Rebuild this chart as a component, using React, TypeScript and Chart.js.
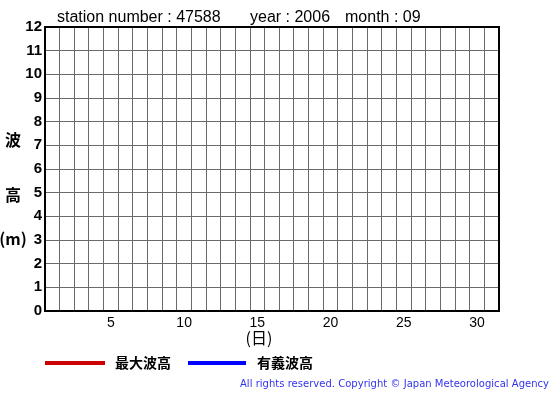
import React, { useEffect, useRef } from "react";
import { Chart, registerables } from "chart.js";

Chart.register(...registerables);

const days: string[] = [
  "1", "2", "3", "4", "5", "6", "7", "8", "9", "10",
  "11", "12", "13", "14", "15", "16", "17", "18", "19", "20",
  "21", "22", "23", "24", "25", "26", "27", "28", "29", "30", "31",
];
const maxWaveHeight: (number | null)[] = [
  null, null, null, null, null, null, null, null, null, null,
  null, null, null, null, null, null, null, null, null, null,
  null, null, null, null, null, null, null, null, null, null, null,
];
const significantWaveHeight: (number | null)[] = [
  null, null, null, null, null, null, null, null, null, null,
  null, null, null, null, null, null, null, null, null, null,
  null, null, null, null, null, null, null, null, null, null, null,
];
const labelMax = "最大波高";
const labelSig = "有義波高";
const titleStation = "station number : 47588";
const titleYear = "year : 2006";
const titleMonth = "month : 09";
const yLabelChars = ["波", "高", "(m)"];
const xLabel = "(日)";
const copyright = "All rights reserved. Copyright © Japan Meteorological Agency";

const SANS = "'Liberation Sans', Arial, sans-serif";
const CJK = "'Noto Sans CJK JP', sans-serif";

const decorPlugin = {
  id: "decor",
  afterDraw(chart: any) {
    const ctx = chart.ctx as CanvasRenderingContext2D;
    const a = chart.chartArea;
    ctx.save();
    // frame
    ctx.strokeStyle = "#000";
    ctx.lineWidth = 2;
    ctx.strokeRect(a.left, a.top, a.right - a.left, a.bottom - a.top);
    // title
    ctx.fillStyle = "#000";
    ctx.textBaseline = "middle";
    ctx.textAlign = "left";
    ctx.font = `16px ${SANS}`;
    ctx.fillText(titleStation, 57, 18);
    ctx.fillText(titleYear, 250, 18);
    ctx.fillText(titleMonth, 345, 18);
    // y label
    ctx.textAlign = "center";
    ctx.font = `bold 16px ${CJK}`;
    ctx.fillText(yLabelChars[0], 13, 140);
    ctx.fillText(yLabelChars[1], 13, 195);
    ctx.fillText(yLabelChars[2], 13, 239);
    // x label
    ctx.font = `16px ${CJK}`;
    ctx.fillText(xLabel, 259, 338);
    // legend
    const ds = chart.data.datasets;
    const items = [
      { x0: 45, x1: 105, tx: 115 },
      { x0: 188, x1: 246, tx: 257 },
    ];
    items.forEach((it, i) => {
      ctx.strokeStyle = ds[i].borderColor;
      ctx.lineWidth = 4;
      ctx.beginPath();
      ctx.moveTo(it.x0, 363);
      ctx.lineTo(it.x1, 363);
      ctx.stroke();
      ctx.fillStyle = "#000";
      ctx.textAlign = "left";
      ctx.font = `bold 14px ${CJK}`;
      ctx.fillText(ds[i].label, it.tx, 363);
    });
    // copyright
    ctx.font = `10px 'DejaVu Sans', sans-serif`;
    ctx.fillStyle = "#3333ee";
    ctx.textAlign = "left";
    const w = ctx.measureText(copyright).width;
    const sp = (309 - w) / copyright.length;
    (ctx as any).letterSpacing = `${sp}px`;
    ctx.fillText(copyright, 240, 384);
    ctx.restore();
  },
};

export default function App() {
  const ref = useRef<HTMLCanvasElement | null>(null);
  useEffect(() => {
    document.body.style.margin = "0";
    const chart = new Chart(ref.current as HTMLCanvasElement, {
      type: "line",
      data: {
        labels: days,
        datasets: [
          {
            label: labelMax,
            data: maxWaveHeight,
            borderColor: "#cc0000",
            backgroundColor: "#cc0000",
            borderWidth: 2,
            pointRadius: 0,
          },
          {
            label: labelSig,
            data: significantWaveHeight,
            borderColor: "#0000ff",
            backgroundColor: "#0000ff",
            borderWidth: 2,
            pointRadius: 0,
          },
        ],
      },
      options: {
        responsive: false,
        animation: false,
        layout: { padding: { left: 0, right: 56, top: 27, bottom: 0 } },
        plugins: { legend: { display: false }, tooltip: { enabled: false }, title: { display: false } },
        scales: {
          x: {
            type: "category",
            offset: true,
            grid: { offset: true, color: "#6a6a6a", lineWidth: 1, drawTicks: false },
            border: { display: false },
            ticks: {
              autoSkip: false,
              maxRotation: 0,
              padding: 4,
              color: "#000",
              font: { family: SANS, size: 14 },
              callback: (v: any, i: number) => (Number(days[i]) % 5 === 0 ? days[i] : ""),
            },
            afterFit: (s: any) => { s.height = 84; },
          },
          y: {
            min: 0,
            max: 12,
            grid: { color: "#6a6a6a", lineWidth: 1, drawTicks: false },
            border: { display: false },
            ticks: {
              stepSize: 1,
              padding: 3,
              color: "#000",
              font: { family: SANS, size: 15, weight: "bold" },
            },
            afterFit: (s: any) => { s.width = 45; },
          },
        },
      },
      plugins: [decorPlugin],
    } as any);
    return () => chart.destroy();
  }, []);
  return (
    <div style={{ position: "absolute", left: 0, top: 0, width: 555, height: 395, background: "#fff" }}>
      <canvas ref={ref} width={555} height={395} style={{ width: 555, height: 395 }} />
    </div>
  );
}
